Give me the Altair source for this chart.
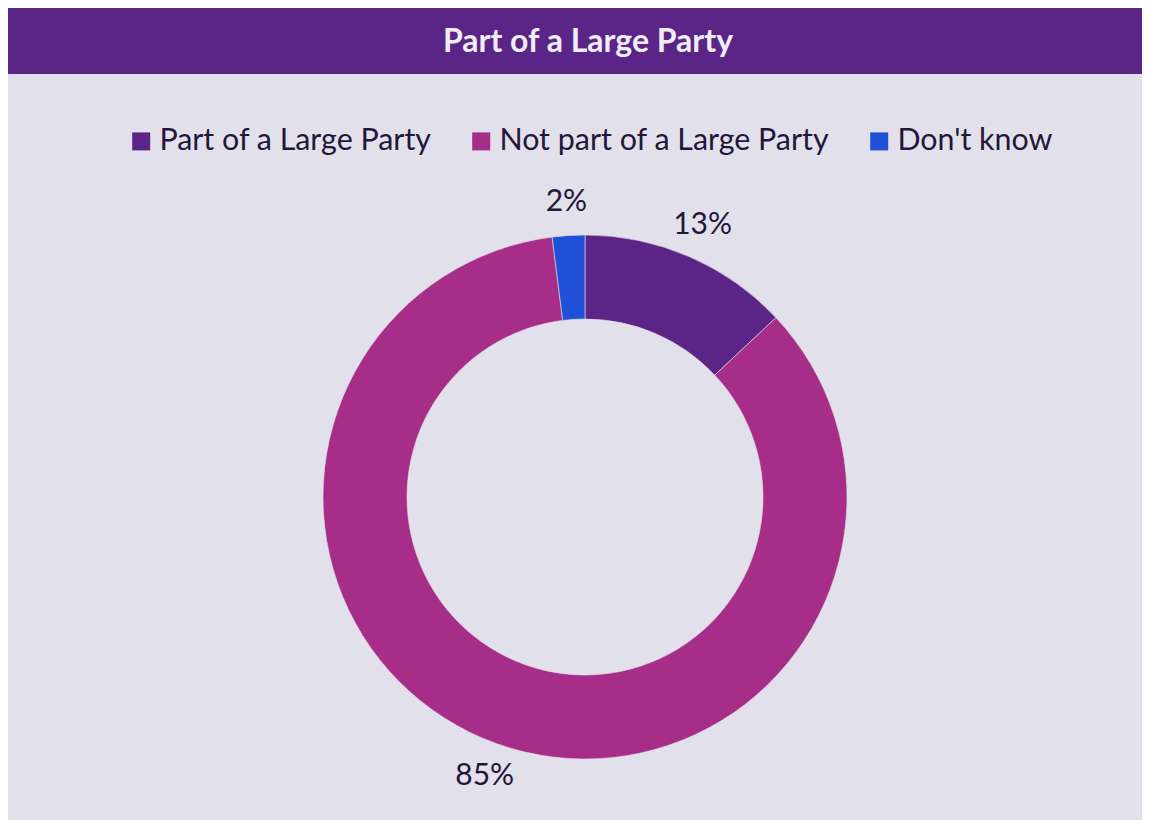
import altair as alt
import pandas as pd

title_text = "Part of a Large Party"
categories = ["Part of a Large Party", "Not part of a Large Party", "Don't know"]
values = [13, 85, 2]
colors = ["#5b2487", "#a62e88", "#2150d8"]

df = pd.DataFrame({
    "category": categories,
    "value": values,
    "order": list(range(len(categories))),
    "label": [f"{v}%" for v in values],
})

W, H = 1134, 812
CX, CY = 577, 489
FONT = "Lato"
TEXT_COLOR = "#24163a"

base = alt.Chart(df)

bar = alt.Chart(pd.DataFrame({"t": [title_text]})).mark_rect(color="#5b2487").encode(
    x=alt.value(0), x2=alt.value(W + 20), y=alt.value(0), y2=alt.value(66)
)
title = alt.Chart(pd.DataFrame({"t": [title_text]})).mark_text(
    font=FONT, fontSize=32, fontWeight="bold", color="#efedf5", baseline="middle", align="center"
).encode(x=alt.value(580), y=alt.value(34), text="t:N")

arcs = base.mark_arc(innerRadius=178, outerRadius=262, stroke="#e2e0ea", strokeWidth=0.6).encode(
    theta=alt.Theta("value:Q", stack=True),
    order=alt.Order("order:Q"),
    color=alt.Color(
        "category:N",
        scale=alt.Scale(domain=categories, range=colors),
        sort=categories,
        legend=alt.Legend(
            title=None, orient="none", direction="horizontal",
            legendX=118, legendY=118,
            symbolType="square", symbolSize=324, symbolStrokeWidth=0,
            labelFont=FONT, labelFontSize=30.4, labelColor=TEXT_COLOR,
            labelOffset=3, columnPadding=34, labelLimit=500,
        ),
    ),
    x=alt.value(CX), y=alt.value(CY),
)

labels = base.mark_text(font=FONT, fontSize=30, color=TEXT_COLOR, radius=296).encode(
    theta=alt.Theta("value:Q", stack=True),
    order=alt.Order("order:Q"),
    text="label:N",
    x=alt.value(CX), y=alt.value(CY),
)

chart = alt.layer(bar, title, arcs, labels).properties(
    width=W, height=H, background="#e2e0ea", padding=0,
    autosize=alt.AutoSizeParams(type="none"),
).configure_view(strokeWidth=0)

chart.save("out.html", embed_options={"renderer": "svg", "actions": False})
